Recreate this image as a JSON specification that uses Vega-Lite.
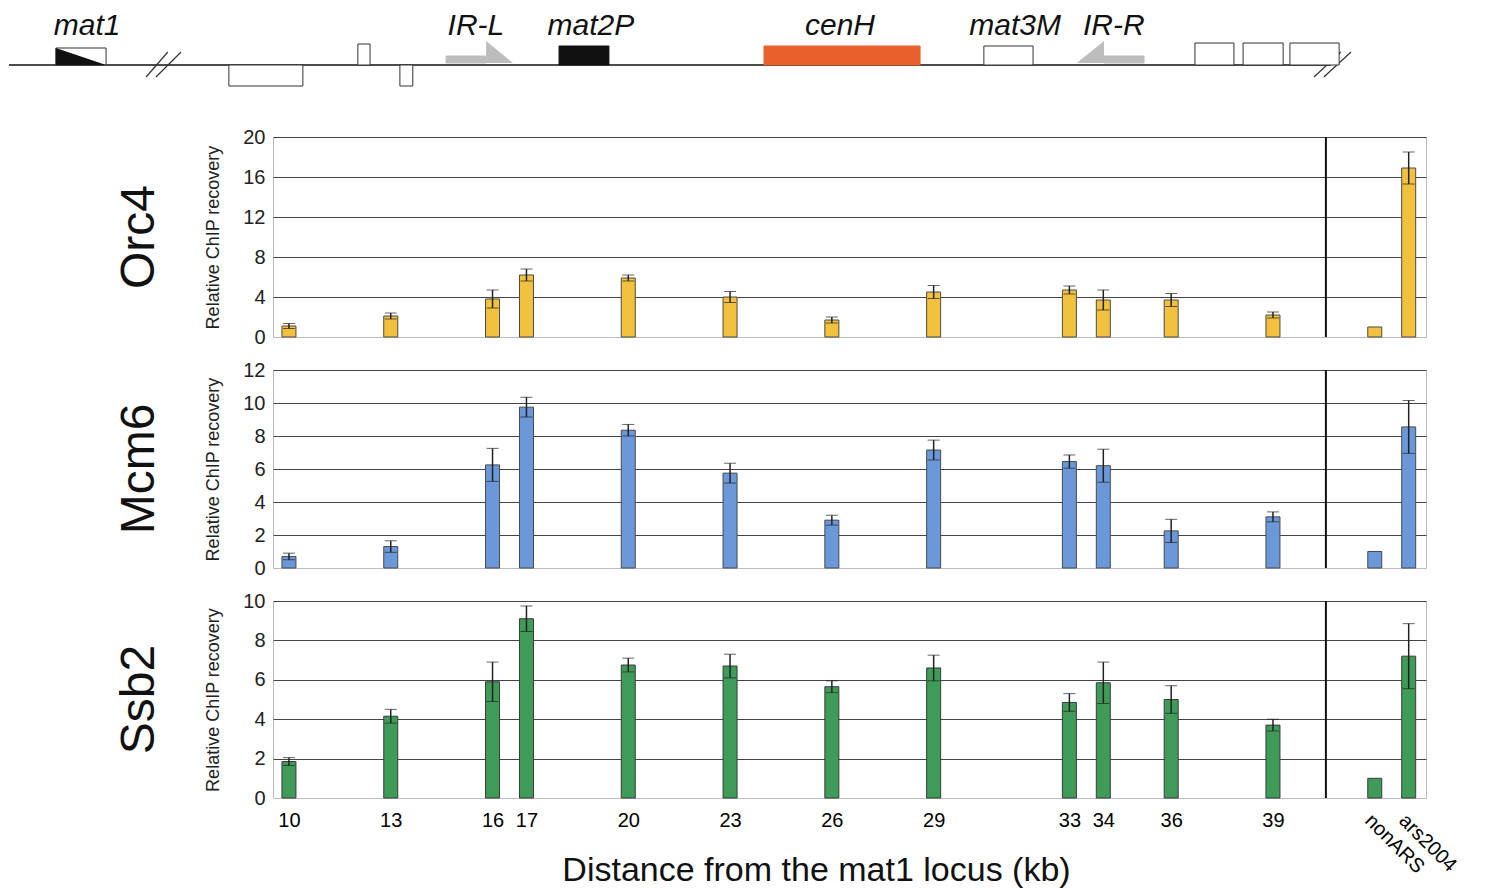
{
  "$schema": "https://vega.github.io/schema/vega-lite/v6.json",
  "padding": {"left": 8, "top": 5, "right": 5, "bottom": 5},
  "background": "white",
  "spacing": 11,
  "datasets": {
    "chip": [
      {"protein": "Orc4", "pos": 10, "value": 1.1, "err": 0.25},
      {"protein": "Orc4", "pos": 13, "value": 2.1, "err": 0.3},
      {"protein": "Orc4", "pos": 16, "value": 3.8, "err": 0.9},
      {"protein": "Orc4", "pos": 17, "value": 6.2, "err": 0.6},
      {"protein": "Orc4", "pos": 20, "value": 5.9, "err": 0.3},
      {"protein": "Orc4", "pos": 23, "value": 4.0, "err": 0.55},
      {"protein": "Orc4", "pos": 26, "value": 1.7, "err": 0.3},
      {"protein": "Orc4", "pos": 29, "value": 4.5, "err": 0.65},
      {"protein": "Orc4", "pos": 33, "value": 4.7, "err": 0.4},
      {"protein": "Orc4", "pos": 34, "value": 3.7, "err": 1.0},
      {"protein": "Orc4", "pos": 36, "value": 3.7, "err": 0.65},
      {"protein": "Orc4", "pos": 39, "value": 2.2, "err": 0.3},
      {"protein": "Orc4", "pos": 42, "value": 1.0, "err": 0},
      {"protein": "Orc4", "pos": 43, "value": 16.9, "err": 1.6},
      {"protein": "Mcm6", "pos": 10, "value": 0.7, "err": 0.2},
      {"protein": "Mcm6", "pos": 13, "value": 1.3, "err": 0.35},
      {"protein": "Mcm6", "pos": 16, "value": 6.25, "err": 1.0},
      {"protein": "Mcm6", "pos": 17, "value": 9.75, "err": 0.6},
      {"protein": "Mcm6", "pos": 20, "value": 8.35, "err": 0.35},
      {"protein": "Mcm6", "pos": 23, "value": 5.75, "err": 0.6},
      {"protein": "Mcm6", "pos": 26, "value": 2.9, "err": 0.3},
      {"protein": "Mcm6", "pos": 29, "value": 7.15, "err": 0.6},
      {"protein": "Mcm6", "pos": 33, "value": 6.45, "err": 0.4},
      {"protein": "Mcm6", "pos": 34, "value": 6.2, "err": 1.0},
      {"protein": "Mcm6", "pos": 36, "value": 2.25, "err": 0.7},
      {"protein": "Mcm6", "pos": 39, "value": 3.1, "err": 0.3},
      {"protein": "Mcm6", "pos": 42, "value": 1.0, "err": 0},
      {"protein": "Mcm6", "pos": 43, "value": 8.55, "err": 1.6},
      {"protein": "Ssb2", "pos": 10, "value": 1.85, "err": 0.2},
      {"protein": "Ssb2", "pos": 13, "value": 4.15, "err": 0.35},
      {"protein": "Ssb2", "pos": 16, "value": 5.9, "err": 1.0},
      {"protein": "Ssb2", "pos": 17, "value": 9.1, "err": 0.65},
      {"protein": "Ssb2", "pos": 20, "value": 6.75, "err": 0.35},
      {"protein": "Ssb2", "pos": 23, "value": 6.7, "err": 0.6},
      {"protein": "Ssb2", "pos": 26, "value": 5.65, "err": 0.3},
      {"protein": "Ssb2", "pos": 29, "value": 6.6, "err": 0.65},
      {"protein": "Ssb2", "pos": 33, "value": 4.85, "err": 0.45},
      {"protein": "Ssb2", "pos": 34, "value": 5.85, "err": 1.05},
      {"protein": "Ssb2", "pos": 36, "value": 5.0, "err": 0.7},
      {"protein": "Ssb2", "pos": 39, "value": 3.7, "err": 0.3},
      {"protein": "Ssb2", "pos": 42, "value": 1.0, "err": 0},
      {"protein": "Ssb2", "pos": 43, "value": 7.2, "err": 1.65}
    ],
    "sep": [{"pos": 40.56}],
    "baseline": [{"x": 1.75, "x2": 40.7, "y": 0}],
    "breaks": [
      {"x": 5.79, "x2": 6.43, "y": -0.6, "y2": 0.65},
      {"x": 6.08, "x2": 6.82, "y": -0.6, "y2": 0.65},
      {"x": 40.21, "x2": 41.0, "y": -0.6, "y2": 0.65},
      {"x": 40.5, "x2": 41.3, "y": -0.6, "y2": 0.65}
    ],
    "boxes": [
      {"name": "mat1", "kind": "open", "x": 3.13, "x2": 4.61, "y": 0, "y2": 0.85},
      {"name": "b1", "kind": "open", "x": 8.23, "x2": 10.41, "y": -1.05, "y2": 0},
      {"name": "b2", "kind": "open", "x": 12.03, "x2": 12.39, "y": 0, "y2": 1.05},
      {"name": "b3", "kind": "open", "x": 13.27, "x2": 13.65, "y": -1.05, "y2": 0},
      {"name": "IR-L shaft", "kind": "gray", "x": 14.63, "x2": 15.81, "y": 0.1, "y2": 0.45},
      {"name": "mat2P", "kind": "black", "x": 17.96, "x2": 19.43, "y": 0, "y2": 0.95},
      {"name": "cenH", "kind": "red", "x": 24.0, "x2": 28.6, "y": 0, "y2": 0.95},
      {"name": "mat3M", "kind": "open", "x": 30.48, "x2": 31.93, "y": 0, "y2": 0.95},
      {"name": "IR-R shaft", "kind": "gray", "x": 34.02, "x2": 35.2, "y": 0.1, "y2": 0.45},
      {"name": "b4", "kind": "open", "x": 36.7, "x2": 37.85, "y": 0, "y2": 1.1},
      {"name": "b5", "kind": "open", "x": 38.12, "x2": 39.3, "y": 0, "y2": 1.1},
      {"name": "b6", "kind": "open", "x": 39.5, "x2": 40.95, "y": 0, "y2": 1.1}
    ],
    "tris": [
      {"id": "mat1", "kind": "black", "x": 3.13, "y": 0.85, "y2": 0},
      {"id": "mat1", "kind": "black", "x": 4.61, "y": 0, "y2": 0},
      {"id": "IR-L", "kind": "gray", "x": 15.81, "y": 1.2, "y2": 0.1},
      {"id": "IR-L", "kind": "gray", "x": 16.6, "y": 0.1, "y2": 0.1},
      {"id": "IR-R", "kind": "gray", "x": 33.22, "y": 0.1, "y2": 0.1},
      {"id": "IR-R", "kind": "gray", "x": 34.02, "y": 1.2, "y2": 0.1}
    ],
    "labels": [
      {"name": "mat1", "x": 4.05, "y": 1.5},
      {"name": "IR-L", "x": 15.51, "y": 1.5},
      {"name": "mat2P", "x": 18.9, "y": 1.5},
      {"name": "cenH", "x": 26.24, "y": 1.5},
      {"name": "mat3M", "x": 31.4, "y": 1.5},
      {"name": "IR-R", "x": 34.31, "y": 1.5}
    ]
  },
  "vconcat": [
    {
      "width": 1153,
      "height": 110,
      "view": {"stroke": null},
      "layer": [
        {
          "data": {"name": "baseline"},
          "mark": {"type": "rule", "color": "#111", "strokeWidth": 1.5},
          "encoding": {
            "x": {"field": "x", "type": "quantitative", "scale": {"domain": [9.53, 43.51], "nice": false, "zero": false, "padding": 0}, "axis": null},
            "x2": {"field": "x2"},
            "y": {"field": "y", "type": "quantitative", "scale": {"domain": [-2.5, 3], "nice": false, "zero": false}, "axis": null}
          }
        },
        {
          "data": {"name": "breaks"},
          "mark": {"type": "rule", "color": "#333", "strokeWidth": 1.2},
          "encoding": {
            "x": {"field": "x", "type": "quantitative"},
            "x2": {"field": "x2"},
            "y": {"field": "y", "type": "quantitative"},
            "y2": {"field": "y2"}
          }
        },
        {
          "data": {"name": "boxes"},
          "mark": {"type": "rect", "strokeWidth": 1},
          "encoding": {
            "x": {"field": "x", "type": "quantitative"},
            "x2": {"field": "x2"},
            "y": {"field": "y", "type": "quantitative"},
            "y2": {"field": "y2"},
            "fill": {"field": "kind", "type": "nominal", "scale": {"domain": ["open", "black", "red", "gray"], "range": ["#ffffff", "#111111", "#e8612c", "#bdbdbd"]}, "legend": null},
            "stroke": {"field": "kind", "type": "nominal", "scale": {"domain": ["open", "black", "red", "gray"], "range": ["#333333", "#111111", "#e8612c", "#bdbdbd"]}, "legend": null}
          }
        },
        {
          "data": {"name": "tris"},
          "mark": {"type": "area"},
          "encoding": {
            "x": {"field": "x", "type": "quantitative"},
            "y": {"field": "y", "type": "quantitative"},
            "y2": {"field": "y2"},
            "fill": {"field": "kind", "type": "nominal", "legend": null},
            "detail": {"field": "id"}
          }
        },
        {
          "data": {"name": "labels"},
          "mark": {"type": "text", "fontSize": 30, "fontStyle": "italic", "baseline": "alphabetic", "align": "center", "color": "#111"},
          "encoding": {
            "x": {"field": "x", "type": "quantitative"},
            "y": {"field": "y", "type": "quantitative"},
            "text": {"field": "name"}
          }
        }
      ]
    },
    {
      "width": 1153,
      "height": 200,
      "title": {"text": "Orc4", "orient": "left", "fontSize": 48, "fontWeight": "normal", "offset": 41, "color": "#111"},
      "layer": [
        {
          "data": {"name": "chip"},
          "transform": [{"filter": "datum.protein == 'Orc4'"}],
          "mark": {"type": "bar", "size": 14, "color": "#f2c23e", "stroke": "#4a4a4a", "strokeWidth": 1},
          "encoding": {
            "x": {"field": "pos", "type": "quantitative", "scale": {"domain": [9.53, 43.51], "nice": false, "zero": false, "padding": 0}, "axis": null},
            "y": {"field": "value", "type": "quantitative", "scale": {"domain": [0, 20], "nice": false}, "axis": {"values": [0, 4, 8, 12, 16, 20], "tickCount": 30, "format": "d", "title": "Relative ChIP recovery"}}
          }
        },
        {
          "data": {"name": "chip"},
          "transform": [{"filter": "datum.protein == 'Orc4' && datum.err > 0"}],
          "mark": {"type": "errorbar", "ticks": {"size": 12, "color": "#222"}, "rule": {"color": "#222", "strokeWidth": 1.5}},
          "encoding": {
            "x": {"field": "pos", "type": "quantitative"},
            "y": {"field": "value", "type": "quantitative", "axis": {"values": [0, 4, 8, 12, 16, 20], "tickCount": 30, "format": "d", "title": "Relative ChIP recovery"}},
            "yError": {"field": "err"}
          }
        },
        {
          "data": {"name": "sep"},
          "mark": {"type": "rule", "color": "#111", "strokeWidth": 2},
          "encoding": {"x": {"field": "pos", "type": "quantitative"}}
        }
      ]
    },
    {
      "width": 1153,
      "height": 198,
      "title": {"text": "Mcm6", "orient": "left", "fontSize": 48, "fontWeight": "normal", "offset": 41, "color": "#111"},
      "layer": [
        {
          "data": {"name": "chip"},
          "transform": [{"filter": "datum.protein == 'Mcm6'"}],
          "mark": {"type": "bar", "size": 14, "color": "#6a98d8", "stroke": "#4a4a4a", "strokeWidth": 1},
          "encoding": {
            "x": {"field": "pos", "type": "quantitative", "scale": {"domain": [9.53, 43.51], "nice": false, "zero": false, "padding": 0}, "axis": null},
            "y": {"field": "value", "type": "quantitative", "scale": {"domain": [0, 12], "nice": false}, "axis": {"values": [0, 2, 4, 6, 8, 10, 12], "tickCount": 30, "format": "d", "title": "Relative ChIP recovery"}}
          }
        },
        {
          "data": {"name": "chip"},
          "transform": [{"filter": "datum.protein == 'Mcm6' && datum.err > 0"}],
          "mark": {"type": "errorbar", "ticks": {"size": 12, "color": "#222"}, "rule": {"color": "#222", "strokeWidth": 1.5}},
          "encoding": {
            "x": {"field": "pos", "type": "quantitative"},
            "y": {"field": "value", "type": "quantitative", "axis": {"values": [0, 2, 4, 6, 8, 10, 12], "tickCount": 30, "format": "d", "title": "Relative ChIP recovery"}},
            "yError": {"field": "err"}
          }
        },
        {
          "data": {"name": "sep"},
          "mark": {"type": "rule", "color": "#111", "strokeWidth": 2},
          "encoding": {"x": {"field": "pos", "type": "quantitative"}}
        }
      ]
    },
    {
      "width": 1153,
      "height": 197,
      "title": {"text": "Ssb2", "orient": "left", "fontSize": 48, "fontWeight": "normal", "offset": 41, "color": "#111"},
      "layer": [
        {
          "data": {"name": "chip"},
          "transform": [{"filter": "datum.protein == 'Ssb2'"}],
          "mark": {"type": "bar", "size": 14, "color": "#3f9b58", "stroke": "#3a3a3a", "strokeWidth": 1},
          "encoding": {
            "x": {
              "field": "pos", "type": "quantitative",
              "scale": {"domain": [9.53, 43.51], "nice": false, "zero": false, "padding": 0},
              "axis": {
                "values": [10, 13, 16, 17, 20, 23, 26, 29, 33, 34, 36, 39, 42, 43],
                "tickCount": 40,
                "labelExpr": "datum.value == 42 ? 'nonARS' : datum.value == 43 ? 'ars2004' : datum.label",
                "grid": false, "domain": false, "ticks": false,
                "labelFontSize": 20, "labelPadding": 12, "labelOverlap": false, "labelBound": false, "labelFlush": false,
                "labelAngle": 0, "labelBaseline": "top",
                "labelAlign": {"condition": {"test": "datum.value > 40", "value": "left"}, "value": "center"},
                "encoding": {"labels": {"angle": {"condition": {"test": "datum.value > 40", "value": 45}, "value": 0}}},
                "title": "Distance from the mat1 locus (kb)",
                "titleFontSize": 34, "titleFontWeight": "normal", "titleX": 543, "titleY": 82, "titleBaseline": "alphabetic", "titleColor": "#111"
              }
            },
            "y": {"field": "value", "type": "quantitative", "scale": {"domain": [0, 10], "nice": false}, "axis": {"values": [0, 2, 4, 6, 8, 10], "tickCount": 30, "format": "d", "title": "Relative ChIP recovery"}}
          }
        },
        {
          "data": {"name": "chip"},
          "transform": [{"filter": "datum.protein == 'Ssb2' && datum.err > 0"}],
          "mark": {"type": "errorbar", "ticks": {"size": 12, "color": "#222"}, "rule": {"color": "#222", "strokeWidth": 1.5}},
          "encoding": {
            "x": {"field": "pos", "type": "quantitative"},
            "y": {"field": "value", "type": "quantitative", "axis": {"values": [0, 2, 4, 6, 8, 10], "tickCount": 30, "format": "d", "title": "Relative ChIP recovery"}},
            "yError": {"field": "err"}
          }
        },
        {
          "data": {"name": "sep"},
          "mark": {"type": "rule", "color": "#111", "strokeWidth": 2},
          "encoding": {"x": {"field": "pos", "type": "quantitative"}}
        }
      ]
    }
  ],
  "config": {
    "font": "Liberation Sans",
    "view": {"stroke": "#bbbbbb"},
    "axisY": {
      "grid": true,
      "gridColor": {"condition": {"test": "datum.value == 0", "value": "#bbbbbb"}, "value": "#444444"},
      "gridWidth": 1,
      "domain": false,
      "ticks": false,
      "labelFontSize": 20,
      "labelPadding": 8,
      "labelOverlap": false,
      "labelColor": "#222",
      "titleFontSize": 18,
      "titleFontWeight": "normal",
      "titlePadding": 20,
      "titleColor": "#222"
    },
    "axisX": {"grid": false}
  }
}
